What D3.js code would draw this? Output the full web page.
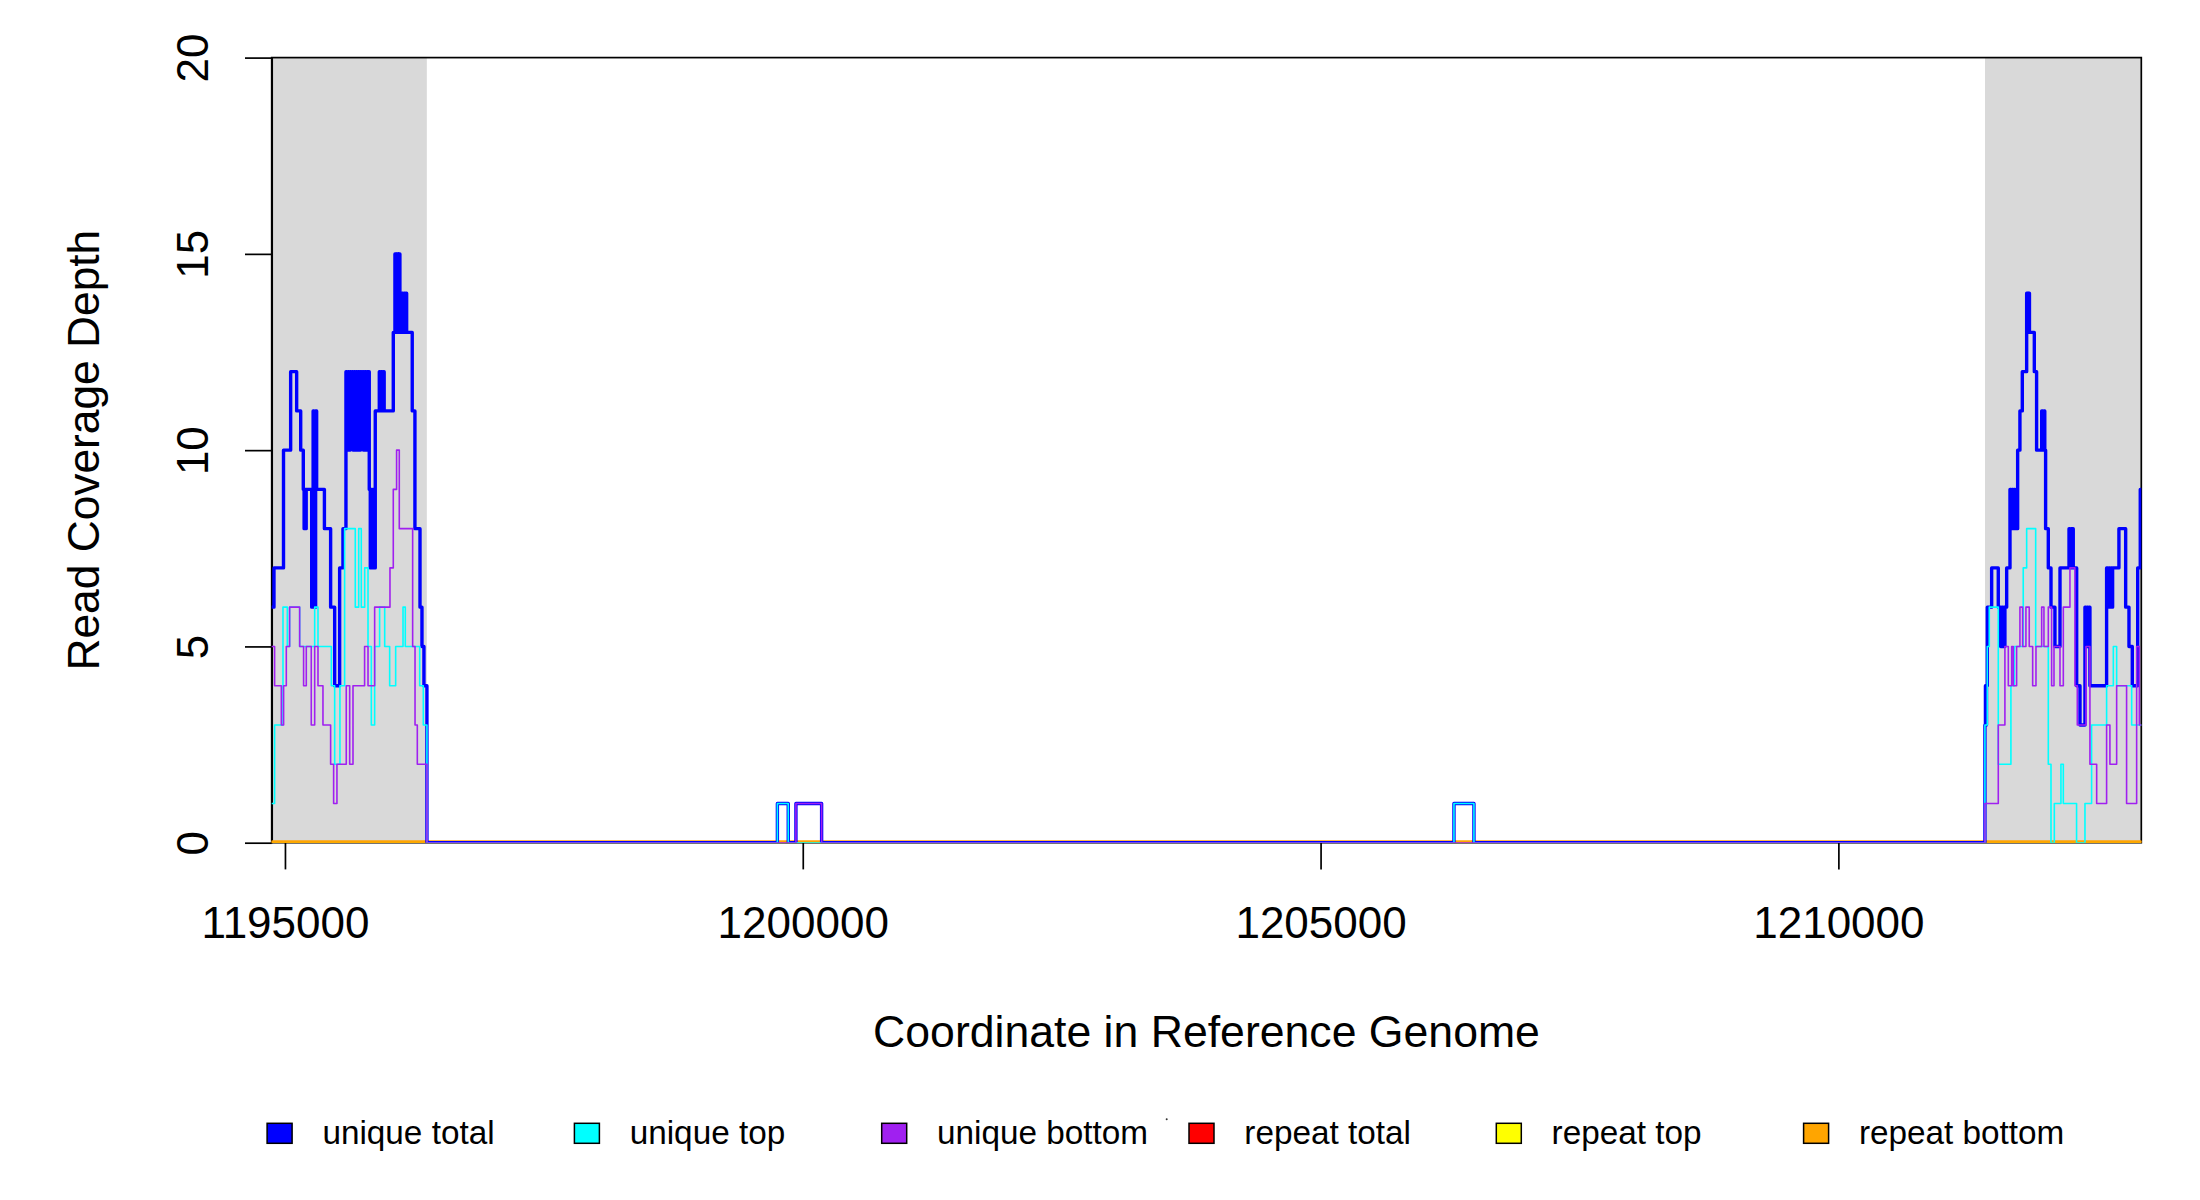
<!DOCTYPE html>
<html><head><meta charset="utf-8">
<script src="https://cdn.jsdelivr.net/npm/d3@7"></script>
<style>html,body{margin:0;padding:0;background:#fff;} svg{display:block}</style>
</head><body>
<svg id="chart" width="2200" height="1200"></svg>
<script>
// ---------- data ----------
const xDomain = [1194872, 1212925];
const yDomain = [0, 20];
const xTicks = [1195000, 1200000, 1205000, 1210000];
const yTicks = [0, 5, 10, 15, 20];
const flankRegions = [[1194872, 1196370], [1211416, 1212925]];

// step data: [position, depth] (value holds until next position)
const uniqueTotal = [
  [1194872, 6], [1194894, 7], [1194986, 10], [1195055, 12], [1195113, 11], [1195152, 10],
  [1195177, 9], [1195185, 8], [1195192, 9], [1195199, 8], [1195205, 9],
  [1195258, 6], [1195265, 9], [1195272, 11], [1195280, 9], [1195288, 6], [1195296, 11],
  [1195306, 9], [1195381, 8], [1195441, 6], [1195480, 4], [1195528, 7], [1195560, 8],
  [1195589, 12], [1195599, 10], [1195609, 12], [1195619, 10], [1195629, 12], [1195639, 11],
  [1195649, 12], [1195659, 10], [1195669, 12], [1195679, 10], [1195689, 12], [1195699, 10],
  [1195709, 12], [1195719, 10], [1195729, 12], [1195739, 11], [1195749, 12], [1195759, 10],
  [1195769, 12], [1195779, 10], [1195789, 12], [1195799, 10], [1195807, 12],
  [1195814, 9], [1195824, 7], [1195834, 9], [1195844, 7], [1195854, 9], [1195864, 7],
  [1195872, 11], [1195911, 12], [1195921, 11], [1195931, 12], [1195941, 11], [1195951, 12], [1195958, 11],
  [1195963, 11], [1196046, 13],
  [1196062, 15], [1196072, 13], [1196082, 15], [1196092, 13], [1196100, 15],
  [1196110, 14], [1196120, 13], [1196130, 14], [1196140, 13], [1196150, 14], [1196160, 13], [1196168, 14],
  [1196175, 13], [1196229, 11], [1196255, 8], [1196304, 6], [1196323, 5], [1196342, 4], [1196371, 0],
  [1199755, 1], [1199860, 0], [1199934, 1], [1200182, 0], [1206288, 1], [1206481, 0],
  [1211415, 3], [1211420, 4], [1211425, 3], [1211430, 4], [1211438, 6], [1211480, 7], [1211544, 6],
  [1211567, 5], [1211577, 6], [1211587, 5], [1211597, 6], [1211603, 5], [1211608, 6], [1211625, 7],
  [1211657, 9], [1211667, 8], [1211677, 9], [1211687, 8], [1211697, 9], [1211707, 8], [1211717, 9], [1211725, 8],
  [1211731, 10], [1211753, 11], [1211776, 12],
  [1211818, 14], [1211828, 13], [1211838, 14], [1211845, 13],
  [1211850, 13], [1211892, 12], [1211914, 10],
  [1211963, 11], [1211973, 10], [1211983, 11], [1211993, 10],
  [1212001, 8], [1212027, 7], [1212053, 6], [1212091, 5], [1212140, 7],
  [1212227, 8], [1212237, 7], [1212247, 8], [1212257, 7], [1212263, 8],
  [1212268, 7], [1212301, 4], [1212333, 3],
  [1212381, 6], [1212391, 5], [1212401, 6], [1212411, 5], [1212421, 6],
  [1212429, 4],
  [1212590, 7], [1212600, 6], [1212610, 7], [1212620, 6], [1212630, 7], [1212640, 6], [1212648, 7],
  [1212655, 7], [1212709, 8], [1212774, 6], [1212806, 5], [1212838, 4], [1212890, 7], [1212915, 9]
];

const uniqueTop = [
  [1194872, 1], [1194900, 3], [1194981, 6], [1195023, 5], [1195045, 6], [1195142, 5],
  [1195287, 6], [1195319, 5], [1195448, 4], [1195480, 2], [1195531, 4], [1195576, 8],
  [1195679, 6], [1195712, 8], [1195737, 6], [1195770, 7], [1195802, 5], [1195834, 3],
  [1195866, 5], [1195914, 6], [1195963, 5], [1196011, 4], [1196069, 5], [1196140, 6],
  [1196162, 5], [1196301, 4], [1196336, 3], [1196371, 0],
  [1199755, 1], [1199860, 0], [1206288, 1], [1206481, 0],
  [1211415, 3], [1211438, 5], [1211457, 6], [1211544, 2], [1211666, 4], [1211699, 5],
  [1211785, 7], [1211818, 8], [1211905, 5], [1212027, 2], [1212053, 0], [1212085, 1],
  [1212149, 2], [1212172, 1], [1212300, 0], [1212381, 1], [1212445, 3], [1212590, 4],
  [1212655, 5], [1212687, 4], [1212832, 3]
];

const uniqueBottom = [
  [1194872, 5], [1194900, 4], [1194965, 3], [1194987, 4], [1195013, 5], [1195045, 6],
  [1195142, 5], [1195180, 4], [1195206, 5], [1195254, 3], [1195287, 5], [1195319, 4],
  [1195367, 3], [1195441, 2], [1195470, 1], [1195502, 2], [1195592, 4], [1195625, 2],
  [1195657, 4], [1195769, 5], [1195802, 4], [1195866, 6], [1196014, 7], [1196046, 9],
  [1196078, 10], [1196104, 8], [1196233, 5], [1196256, 3], [1196278, 2], [1196371, 0],
  [1199934, 1], [1200182, 0],
  [1211415, 1], [1211544, 3], [1211608, 5], [1211641, 4], [1211673, 5], [1211689, 4],
  [1211721, 5], [1211753, 6], [1211779, 5], [1211811, 6], [1211843, 5], [1211876, 4],
  [1211908, 5], [1211963, 6], [1211985, 5], [1212027, 6], [1212059, 4], [1212082, 5],
  [1212140, 4], [1212172, 6], [1212236, 7], [1212284, 4], [1212307, 3], [1212391, 5],
  [1212429, 2], [1212494, 1], [1212590, 3], [1212622, 2], [1212687, 4], [1212783, 1],
  [1212880, 5], [1212906, 3]
];

const repeatTotal = [[1194872, 0], [1212925, 0]];
const repeatTop = [[1194872, 0], [1212925, 0]];
const repeatBottom = [[1194872, 0], [1212925, 0]];

const legendLabels = ["unique total", "unique top", "unique bottom", "repeat total", "repeat top", "repeat bottom"];
const legendColors = ["#0000FF", "#00FFFF", "#A020F0", "#FF0000", "#FFFF00", "#FFA500"];

// ---------- drawing ----------
const FONT = "'Liberation Sans', Arial, Helvetica, sans-serif";
const L = 271.7, R = 2141.3, T = 57.6, B = 842.7;
const svg = d3.select("#chart");
svg.append("rect").attr("width", 2200).attr("height", 1200).attr("fill", "#fff");

const x = d3.scaleLinear().domain(xDomain).range([L, R]);
const y = d3.scaleLinear().domain(yDomain).range([B, T]);

svg.append("defs").append("clipPath").attr("id", "plotclip")
  .append("rect").attr("x", L).attr("y", T).attr("width", R - L).attr("height", B - T);

// flanking regions
svg.selectAll("rect.flank").data(flankRegions).enter().append("rect")
  .attr("class", "flank")
  .attr("x", d => x(d[0])).attr("y", T)
  .attr("width", d => x(d[1]) - x(d[0])).attr("height", B - T)
  .attr("fill", "#D9D9D9");

// box
svg.append("rect").attr("x", L).attr("y", T).attr("width", R - L).attr("height", B - T)
  .attr("fill", "none").attr("stroke", "#000").attr("stroke-width", 1.7);

// axes
const xAxis = svg.append("g").attr("transform", `translate(0,${B})`)
  .call(d3.axisBottom(x).tickValues(xTicks).tickSize(26.7).tickSizeOuter(0).tickFormat(d3.format("d")));
xAxis.select(".domain").remove();
xAxis.selectAll(".tick line").attr("stroke", "#000").attr("stroke-width", 1.7);
xAxis.selectAll(".tick text").attr("y", 95.6).attr("dy", "0")
  .attr("font-family", FONT).attr("font-size", 44).attr("fill", "#000");

const yAxis = svg.append("g").attr("transform", `translate(${L},0)`)
  .call(d3.axisLeft(y).tickValues(yTicks).tickSize(26.7).tickSizeOuter(0));
yAxis.select(".domain").attr("stroke", "#000").attr("stroke-width", 1.7);
yAxis.selectAll(".tick line").attr("stroke", "#000").attr("stroke-width", 1.7);
yAxis.selectAll(".tick text").attr("x", 0).attr("dy", "0")
  .attr("text-anchor", "middle")
  .attr("transform", `translate(${207.5 - L},0) rotate(-90)`)
  .attr("font-family", FONT).attr("font-size", 44).attr("fill", "#000");

// axis titles
svg.append("text").attr("x", (L + R) / 2).attr("y", 1047)
  .attr("text-anchor", "middle").attr("font-family", FONT).attr("font-size", 44.6)
  .text("Coordinate in Reference Genome");
svg.append("text").attr("transform", `translate(98.5,${(T + B) / 2}) rotate(-90)`)
  .attr("text-anchor", "middle").attr("font-family", FONT).attr("font-size", 44.3)
  .text("Read Coverage Depth");

// coverage lines
const line = d3.line().x(d => x(d[0])).y(d => y(d[1])).curve(d3.curveStepAfter);
const ext = s => s.concat([[xDomain[1], s[s.length - 1][1]]]);
const plotG = svg.append("g").attr("clip-path", "url(#plotclip)");
const series = [
  { data: repeatTotal, color: legendColors[3], w: 4 },
  { data: repeatTop, color: legendColors[4], w: 4 },
  { data: repeatBottom, color: legendColors[5], w: 4.4 },
  { data: uniqueTotal, color: legendColors[0], w: 3.4 },
  { data: uniqueTop, color: legendColors[1], w: 1.6 },
  { data: uniqueBottom, color: legendColors[2], w: 1.6 }
];
series.forEach(s => {
  plotG.append("path").attr("d", line(ext(s.data)))
    .attr("fill", "none").attr("stroke", s.color).attr("stroke-width", s.w)
    .attr("stroke-linejoin", "round").attr("stroke-linecap", "round");
});

// legend
const legX = d3.scalePoint().domain(legendLabels).range([267.1, 1803.6]);
const leg = svg.selectAll("g.leg").data(legendLabels).enter().append("g").attr("class", "leg");
leg.append("rect").attr("x", d => legX(d)).attr("y", 1123.3).attr("width", 25).attr("height", 20)
  .attr("fill", (d, i) => legendColors[i]).attr("stroke", "#000").attr("stroke-width", 1.5);
leg.append("text").attr("x", d => legX(d) + 55.3).attr("y", 1144.3)
  .attr("font-family", FONT).attr("font-size", 33.3).attr("fill", "#000").text(d => d);
svg.append("circle").attr("cx", 1166.7).attr("cy", 1119.3).attr("r", 1).attr("fill", "#333");
</script>
</body></html>
